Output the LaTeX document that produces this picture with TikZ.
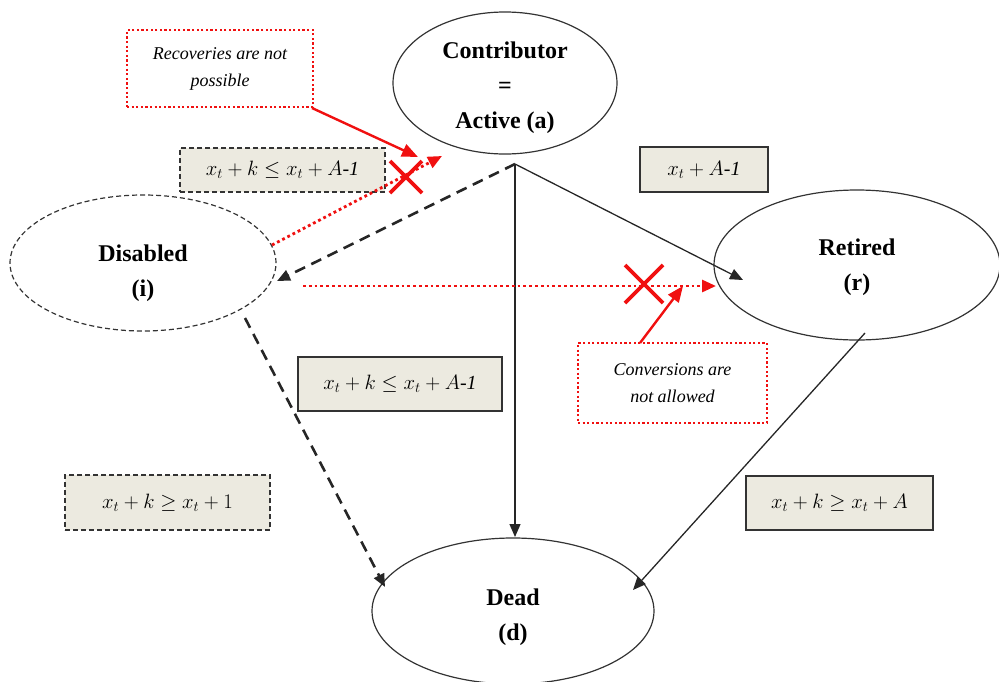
\documentclass[tikz,border=0pt]{standalone}
\usepackage{fontspec}
\setmainfont{Liberation Serif}
\usetikzlibrary{shapes.geometric,arrows.meta}
\definecolor{boxfill}{HTML}{ECEAE0}
\definecolor{edge}{HTML}{333333}
\definecolor{redc}{HTML}{F01010}
\newcommand{\lowerlabel}[2]{\smash{\raisebox{#1}{\begin{tabular}{@{}c@{}}#2\end{tabular}}}}
\begin{document}
\begin{tikzpicture}[x=1pt,y=-1pt,
  state/.style={ellipse, draw=edge, line width=1.2pt, align=center, inner sep=0pt,
    font=\bfseries\fontsize{24}{35}\selectfont},
  cond/.style={draw=edge, fill=boxfill, line width=1.6pt, inner sep=0pt, align=center,
    font=\itshape\fontsize{20}{24}\selectfont},
  dcond/.style={cond, dash pattern=on 5pt off 3pt},
  note/.style={draw=redc, line width=2.2pt, dash pattern=on 2.2pt off 2.4pt, inner sep=0pt,
    align=center, font=\itshape\fontsize{18}{27}\selectfont},
  tr/.style={line width=1.3pt, draw=black!85, -{Triangle[length=13pt,width=11pt]}},
  dtr/.style={line width=2.6pt, draw=black!85, dash pattern=on 11pt off 7pt,
    -{Triangle[length=13pt,width=11pt]}},
  rdot/.style={line width=2.8pt, draw=redc, dash pattern=on 2.8pt off 3pt,
    -{Triangle[length=14pt,width=12pt,fill=redc]}},
  rarr/.style={line width=2.4pt, draw=redc, -{Triangle[length=16pt,width=13pt]}},
  xmark/.style={line width=3.6pt, draw=redc}
]
\useasboundingbox (0,0) rectangle (999,681);

% states
\node[state, minimum width=224pt, minimum height=142pt] (act) at (505,83)
  {\lowerlabel{-10pt}{Contributor\\=\\Active (a)}};
\node[state, dash pattern=on 5pt off 3pt, minimum width=266pt, minimum height=136pt] (dis) at (143,263)
  {\lowerlabel{-15pt}{Disabled\\(i)}};
\node[state, minimum width=286pt, minimum height=150pt] (ret) at (857,265)
  {\lowerlabel{-7pt}{Retired\\(r)}};
\node[state, minimum width=282pt, minimum height=146pt] (dead) at (513,611)
  {\lowerlabel{-11pt}{Dead\\(d)}};

% condition boxes
\node[dcond, minimum width=205pt, minimum height=44pt] (c1) at (282.5,170) {$x_t + k \leq x_t + A$-1};
\node[cond, minimum width=128pt, minimum height=45pt] (c2) at (704,169.5) {$x_t + A$-1};
\node[cond, minimum width=204pt, minimum height=54pt] (c3) at (400,384) {$x_t + k \leq x_t + A$-1};
\node[dcond, minimum width=205pt, minimum height=55pt] (c4) at (167.5,502.5) {$x_t + k \geq x_t + 1$};
\node[cond, minimum width=187pt, minimum height=54pt] (c5) at (839.5,503) {$x_t + k \geq x_t + A$};

% notes
\node[note, minimum width=186pt, minimum height=77pt] (n1) at (220,68.5) {Recoveries are not\\possible};
\node[note, minimum width=189pt, minimum height=80pt] (n2) at (672.5,383) {Conversions are\\not allowed};

% coordinates
\coordinate (src) at (515,164);
\coordinate (retin) at (743,280);
\coordinate (disin) at (277,281);
\coordinate (disout) at (245,318);
\coordinate (deadl) at (385,587);
\coordinate (deadt) at (515,537);
\coordinate (retout) at (865,333);
\coordinate (deadr) at (633,590);
\coordinate (r1s) at (272,245);
\coordinate (r1e) at (442,156);
\coordinate (r2s) at (303,286);
\coordinate (r2e) at (716,286);
\coordinate (n1s) at (312,108);
\coordinate (n1e) at (418,157);
\coordinate (n2s) at (640,343);
\coordinate (n2e) at (683,286);

% transitions
\draw[tr] (src) -- (deadt);
\draw[tr] (src) -- (retin);
\draw[dtr] (src) -- (disin);
\draw[dtr] (disout) -- (deadl);
\draw[tr] (retout) -- (deadr);

% forbidden transitions
\draw[rdot] (r1s) -- (r1e);
\draw[rdot] (r2s) -- (r2e);
\draw[rarr] (n1s) -- (n1e);
\draw[rarr] (n2s) -- (n2e);

% crosses
\coordinate (x1) at (406,177);
\coordinate (x2) at (644,284);
\draw[xmark] ([shift={(-16,-16)}]x1) -- ([shift={(16,16)}]x1);
\draw[xmark] ([shift={(-16,16)}]x1) -- ([shift={(16,-16)}]x1);
\draw[xmark] ([shift={(-19,-19)}]x2) -- ([shift={(19,19)}]x2);
\draw[xmark] ([shift={(-19,19)}]x2) -- ([shift={(19,-19)}]x2);
\end{tikzpicture}
\end{document}
